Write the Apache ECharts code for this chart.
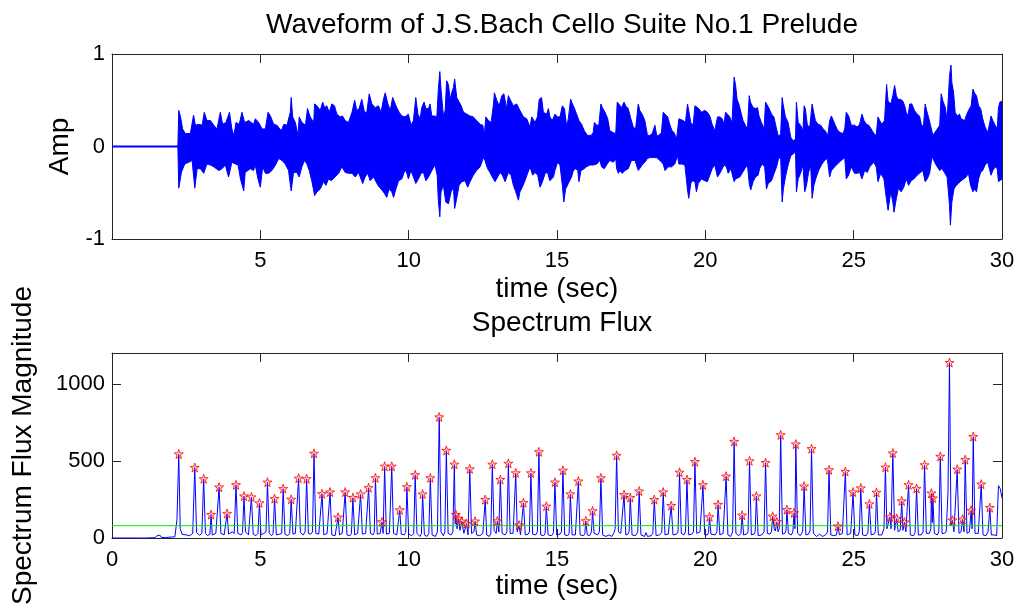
<!DOCTYPE html>
<html><head><meta charset="utf-8">
<script src="https://cdn.jsdelivr.net/npm/echarts@6/dist/echarts.min.js"></script>
<style>html,body{margin:0;padding:0;background:#fff}#c{width:1021px;height:610px}</style>
</head><body><div id="c"></div>
<script>
// ---- Data ----
const titleTop = 'Waveform of J.S.Bach Cello Suite No.1 Prelude';
const titleBottom = 'Spectrum Flux';
const xLabel = 'time (sec)';
const yLabelTop = 'Amp';
const yLabelBottom = 'Spectrum Flux Magnitude';
const timeRange = [0, 30];
const timeTickStep = 5;
const ampRange = [-1, 1];
const ampTickStep = 1;
const fluxRange = [0, 1200];
const fluxTickStep = 500;
const threshold = 80;

// Waveform upper envelope [time, amplitude]
const waveUpper = [[0,0],[2.22,0],[2.25,0.39],[2.31,0.32],[2.38,0.19],[2.47,0.14],[2.64,0.14],[2.75,0.34],[2.81,0.23],[2.92,0.24],[3.04,0.23],[3.11,0.37],[3.20,0.28],[3.32,0.28],[3.43,0.23],[3.54,0.19],[3.65,0.37],[3.73,0.24],[3.84,0.26],[3.96,0.37],[4.04,0.19],[4.11,0.12],[4.18,0.26],[4.29,0.24],[4.38,0.37],[4.47,0.26],[4.61,0.28],[4.77,0.24],
[4.83,0.30],[4.94,0.26],[5.06,0.19],[5.17,0.19],[5.26,0.37],[5.34,0.33],[5.45,0.24],[5.56,0.23],[5.71,0.17],[5.79,0.24],[5.90,0.23],[6.01,0.37],[6.04,0.53],[6.09,0.32],[6.18,0.26],[6.27,0.12],[6.31,0.32],[6.40,0.26],[6.52,0.23],[6.59,0.41],[6.68,0.32],[6.80,0.26],[6.83,0.46],[6.91,0.44],[7.02,0.39],[7.10,0.48],[7.17,0.42],[7.24,0.44],[7.32,0.37],[7.41,0.46],[7.50,0.44],[7.58,0.35],[7.69,0.32],[7.77,0.33],[7.86,0.28],[7.97,0.26],[8.09,0.37],[8.18,0.50],[8.25,0.39],[8.33,0.41],[8.42,0.51],[8.51,0.37],[8.59,0.37],[8.67,0.57],[8.76,0.46],[8.87,0.42],[8.98,0.44],[9.07,0.37],[9.15,0.51],[9.21,0.58],[9.30,0.46],[9.38,0.39],[9.46,0.53],[9.52,0.51],[9.60,0.42],[9.68,0.37],[9.77,0.33],
[9.88,0.32],[9.99,0.35],[10.08,0.23],[10.16,0.28],[10.24,0.53],[10.31,0.35],[10.39,0.30],[10.44,0.42],[10.52,0.48],[10.58,0.41],[10.67,0.41],[10.72,0.46],[10.78,0.33],[10.87,0.33],[10.95,0.32],[11.00,0.62],[11.05,0.81],[11.09,0.62],[11.17,0.33],[11.23,0.39],[11.28,0.71],[11.34,0.67],[11.40,0.51],[11.45,0.58],[11.51,0.64],[11.55,0.73],[11.62,0.53],[11.68,0.51],[11.77,0.44],[11.85,0.37],[11.96,0.35],[12.07,0.33],[12.18,0.32],[12.29,0.28],[12.41,0.24],[12.50,0.23],[12.55,0.12],[12.60,0.32],[12.69,0.28],[12.78,0.26],[12.86,0.46],[12.89,0.58],[12.97,0.50],[13.05,0.44],[13.14,0.55],[13.21,0.57],[13.30,0.41],[13.36,0.55],[13.45,0.49],[13.53,0.44],[13.64,0.46],[13.75,0.39],[13.87,0.32],[13.98,0.30],[14.09,0.21],[14.15,0.32],[14.26,0.26],[14.34,0.32],[14.40,0.51],[14.48,0.53],[14.54,0.37],[14.65,0.35],[14.71,0.41],[14.76,0.32],[14.84,0.28],
[14.93,0.35],[15.02,0.32],[15.10,0.32],[15.18,0.44],[15.25,0.41],[15.33,0.21],[15.38,0.30],[15.46,0.51],[15.52,0.46],[15.58,0.42],[15.66,0.35],[15.74,0.28],[15.83,0.24],[15.92,0.17],[16.03,0.12],[16.15,0.12],[16.22,0.15],[16.26,0.26],[16.34,0.23],[16.41,0.23],[16.48,0.46],[16.53,0.42],[16.62,0.37],[16.71,0.30],[16.78,0.17],[16.90,0.15],[16.98,0.14],[17.03,0.48],[17.09,0.46],[17.18,0.42],[17.26,0.48],[17.31,0.44],[17.40,0.41],[17.49,0.30],[17.57,0.21],[17.65,0.19],[17.74,0.46],[17.79,0.39],[17.87,0.35],[17.96,0.28],[18.05,0.12],[18.13,0.12],[18.21,0.14],[18.30,0.23],[18.36,0.12],[18.43,0.12],[18.52,0.15],[18.58,0.37],[18.64,0.35],[18.73,0.32],[18.80,0.24],[18.88,0.17],[18.95,0.15],[19.03,0.08],[19.11,0.30],[19.17,0.32],[19.25,0.28],[19.33,0.26],[19.40,0.46],[19.44,0.48],[19.51,0.26],[19.59,0.23],[19.65,0.44],[19.70,0.46],[19.78,0.41],[19.87,0.37],
[19.98,0.39],[20.07,0.37],[20.15,0.33],[20.23,0.24],[20.32,0.17],[20.41,0.32],[20.49,0.32],[20.57,0.30],[20.63,0.24],[20.68,0.37],[20.75,0.35],[20.82,0.32],[20.90,0.26],[20.97,0.75],[21.02,0.66],[21.07,0.51],[21.13,0.46],[21.20,0.37],[21.27,0.28],[21.35,0.23],[21.42,0.19],[21.48,0.55],[21.52,0.48],[21.61,0.42],[21.69,0.41],[21.76,0.42],[21.81,0.33],[21.89,0.26],[21.98,0.19],[22.03,0.48],[22.07,0.46],[22.15,0.41],[22.23,0.35],[22.31,0.32],[22.40,0.19],[22.47,0.10],[22.54,0.14],[22.59,0.53],[22.62,0.46],[22.70,0.32],[22.79,0.26],[22.88,0.10],[22.96,0.06],[23.04,0.08],[23.07,0.48],[23.13,0.26],[23.21,0.23],[23.29,0.17],[23.33,0.44],[23.37,0.41],[23.44,0.23],[23.52,0.21],[23.60,0.46],[23.64,0.39],[23.71,0.28],[23.80,0.24],[23.89,0.23],[23.97,0.19],[24.04,0.17],[24.13,0.12],[24.19,0.28],[24.25,0.33],[24.30,0.33],[24.38,0.23],[24.47,0.17],[24.56,0.15],[24.64,0.14],[24.70,0.19],[24.75,0.37],[24.83,0.33],[24.92,0.23],
[25.03,0.23],[25.12,0.21],[25.20,0.24],[25.28,0.35],[25.35,0.28],[25.43,0.24],[25.51,0.23],[25.59,0.19],[25.68,0.14],[25.76,0.12],[25.82,0.32],[25.88,0.28],[25.95,0.24],[26.04,0.28],[26.11,0.67],[26.16,0.49],[26.25,0.46],[26.32,0.55],[26.38,0.66],[26.44,0.55],[26.49,0.51],[26.58,0.51],[26.66,0.49],[26.72,0.44],[26.77,0.37],[26.83,0.33],[26.89,0.46],[26.96,0.46],[27.05,0.39],[27.14,0.35],[27.22,0.33],[27.28,0.24],[27.35,0.21],[27.41,0.46],[27.46,0.39],[27.52,0.32],[27.59,0.23],[27.67,0.12],[27.73,0.14],[27.82,0.19],[27.90,0.23],[27.95,0.57],[28.01,0.49],[28.09,0.42],[28.15,0.28],[28.23,0.76],[28.28,0.88],[28.31,0.69],[28.37,0.58],[28.42,0.37],[28.49,0.33],[28.57,0.35],[28.62,0.30],[28.68,0.32],[28.74,0.28],[28.79,0.33],[28.87,0.39],[28.96,0.44],[29.02,0.62],[29.07,0.58],[29.14,0.55],[29.21,0.44],[29.28,0.41],[29.35,0.30],[29.43,0.21],[29.52,0.15],[29.58,0.14],[29.63,0.33],[29.69,0.28],[29.77,0.23],[29.84,0.19],[29.88,0.42],[29.93,0.48],[30,0.49]];

// Waveform lower envelope [time, amplitude]
const waveLower = [[0,0],[2.22,0],[2.25,-0.45],[2.34,-0.28],[2.45,-0.19],[2.59,-0.17],[2.70,-0.15],[2.79,-0.45],[2.87,-0.24],[2.98,-0.24],[3.09,-0.29],[3.20,-0.19],[3.32,-0.20],[3.43,-0.22],[3.60,-0.26],[3.71,-0.24],[3.82,-0.20],[3.93,-0.33],[4.04,-0.17],[4.16,-0.19],[4.25,-0.20],[4.33,-0.35],[4.44,-0.48],[4.49,-0.28],[4.66,-0.24],[4.77,-0.26],
[4.83,-0.20],[4.92,-0.35],[5.00,-0.44],[5.08,-0.22],[5.17,-0.29],[5.28,-0.29],[5.39,-0.26],[5.51,-0.20],[5.62,-0.13],[5.73,-0.15],[5.84,-0.19],[5.95,-0.26],[6.04,-0.48],[6.12,-0.28],[6.23,-0.28],[6.31,-0.33],[6.40,-0.22],[6.49,-0.15],[6.57,-0.19],[6.65,-0.26],[6.74,-0.38],[6.83,-0.53],[6.91,-0.49],[7.02,-0.46],[7.13,-0.38],[7.21,-0.42],[7.30,-0.35],[7.39,-0.37],[7.52,-0.33],[7.64,-0.29],[7.75,-0.22],[7.86,-0.28],[7.97,-0.29],[8.09,-0.29],[8.20,-0.33],[8.31,-0.28],[8.45,-0.40],[8.53,-0.33],[8.62,-0.29],[8.70,-0.37],[8.82,-0.33],[8.93,-0.40],[9.01,-0.44],[9.10,-0.47],[9.19,-0.51],[9.26,-0.55],[9.34,-0.46],[9.43,-0.49],[9.49,-0.55],[9.57,-0.46],[9.66,-0.37],[9.77,-0.35],
[9.88,-0.25],[9.94,-0.29],[9.99,-0.35],[10.08,-0.26],[10.16,-0.33],[10.24,-0.40],[10.33,-0.35],[10.42,-0.29],[10.50,-0.28],[10.58,-0.37],[10.67,-0.33],[10.78,-0.26],[10.89,-0.20],[10.96,-0.31],[11.00,-0.58],[11.05,-0.76],[11.09,-0.49],[11.17,-0.42],[11.25,-0.60],[11.34,-0.62],[11.43,-0.49],[11.51,-0.44],[11.55,-0.67],[11.62,-0.56],[11.70,-0.42],[11.79,-0.38],[11.90,-0.37],[11.99,-0.44],[12.07,-0.38],[12.18,-0.31],[12.29,-0.26],[12.41,-0.22],[12.52,-0.12],[12.57,-0.15],[12.66,-0.24],[12.74,-0.28],[12.82,-0.33],[12.91,-0.38],[13.00,-0.33],[13.08,-0.28],[13.16,-0.31],[13.25,-0.38],[13.36,-0.28],[13.45,-0.31],[13.53,-0.42],[13.61,-0.49],[13.70,-0.58],[13.75,-0.49],[13.83,-0.44],[13.92,-0.37],[14.01,-0.29],[14.09,-0.22],[14.18,-0.31],[14.26,-0.28],[14.35,-0.31],[14.43,-0.44],[14.51,-0.38],[14.60,-0.29],[14.68,-0.28],[14.76,-0.37],[14.88,-0.33],
[14.93,-0.26],[15.02,-0.17],[15.10,-0.20],[15.18,-0.42],[15.23,-0.60],[15.29,-0.46],[15.38,-0.40],[15.44,-0.38],[15.49,-0.33],[15.55,-0.26],[15.63,-0.24],[15.70,-0.26],[15.74,-0.38],[15.81,-0.26],[15.92,-0.24],[15.99,-0.22],[16.11,-0.20],[16.22,-0.20],[16.28,-0.22],[16.34,-0.19],[16.45,-0.15],[16.50,-0.22],[16.59,-0.24],[16.67,-0.20],[16.78,-0.15],[16.90,-0.17],[16.98,-0.13],[17.01,-0.24],[17.07,-0.29],[17.12,-0.26],[17.20,-0.29],[17.29,-0.26],[17.40,-0.24],[17.51,-0.15],[17.63,-0.15],[17.74,-0.26],[17.79,-0.28],[17.87,-0.20],[17.96,-0.17],[18.05,-0.13],[18.13,-0.12],[18.24,-0.12],[18.36,-0.12],[18.47,-0.15],[18.58,-0.19],[18.64,-0.26],[18.75,-0.22],[18.86,-0.22],[18.97,-0.19],[19.06,-0.10],[19.11,-0.19],[19.20,-0.19],[19.31,-0.20],[19.40,-0.47],[19.44,-0.56],[19.51,-0.40],[19.56,-0.37],[19.65,-0.38],[19.70,-0.49],[19.76,-0.40],[19.87,-0.35],
[19.98,-0.37],[20.07,-0.38],[20.15,-0.31],[20.23,-0.24],[20.32,-0.20],[20.41,-0.33],[20.49,-0.29],[20.57,-0.24],[20.63,-0.20],[20.71,-0.22],[20.77,-0.29],[20.86,-0.24],[20.97,-0.38],[21.02,-0.35],[21.08,-0.37],[21.16,-0.33],[21.24,-0.29],[21.33,-0.24],[21.42,-0.20],[21.48,-0.40],[21.53,-0.47],[21.61,-0.38],[21.69,-0.33],[21.78,-0.31],[21.83,-0.24],[21.91,-0.19],[22.00,-0.22],[22.06,-0.46],[22.12,-0.40],[22.23,-0.37],[22.32,-0.29],[22.40,-0.22],[22.47,-0.13],[22.54,-0.12],[22.59,-0.60],[22.63,-0.46],[22.70,-0.33],[22.79,-0.20],[22.88,-0.10],[22.96,-0.08],[23.04,-0.06],[23.07,-0.49],[23.13,-0.35],[23.21,-0.29],[23.29,-0.20],[23.35,-0.49],[23.41,-0.42],[23.48,-0.28],[23.55,-0.20],[23.60,-0.56],[23.66,-0.42],[23.74,-0.33],[23.82,-0.26],[23.91,-0.20],[24.02,-0.15],[24.11,-0.13],[24.19,-0.33],[24.25,-0.26],[24.36,-0.22],[24.45,-0.19],[24.58,-0.15],[24.70,-0.12],[24.75,-0.35],[24.83,-0.31],[24.92,-0.22],
[25.03,-0.29],[25.12,-0.29],[25.20,-0.28],[25.28,-0.35],[25.37,-0.26],[25.46,-0.28],[25.54,-0.22],[25.59,-0.20],[25.68,-0.17],[25.76,-0.22],[25.82,-0.38],[25.91,-0.29],[26.02,-0.35],[26.10,-0.56],[26.16,-0.69],[26.25,-0.49],[26.32,-0.60],[26.36,-0.71],[26.44,-0.56],[26.51,-0.45],[26.60,-0.49],[26.69,-0.44],[26.77,-0.35],[26.85,-0.42],[26.94,-0.37],[27.03,-0.35],[27.14,-0.31],[27.22,-0.29],[27.33,-0.26],[27.41,-0.38],[27.48,-0.35],[27.56,-0.29],[27.64,-0.11],[27.70,-0.15],[27.78,-0.20],[27.90,-0.26],[27.97,-0.24],[28.06,-0.28],[28.15,-0.33],[28.23,-0.63],[28.26,-0.85],[28.31,-0.60],[28.38,-0.46],[28.46,-0.42],[28.53,-0.40],[28.62,-0.37],[28.71,-0.35],[28.79,-0.33],[28.87,-0.29],[28.94,-0.42],[29.02,-0.49],[29.07,-0.46],[29.14,-0.49],[29.21,-0.35],[29.28,-0.28],[29.35,-0.26],[29.43,-0.20],[29.52,-0.17],[29.58,-0.15],[29.63,-0.31],[29.69,-0.26],[29.77,-0.22],[29.84,-0.24],[29.88,-0.38],[29.93,-0.40],[30,-0.35]];

// Spectral flux curve [time, magnitude]
const fluxCurve = [[0,0],[1.0,0],[1.06,5],[1.1,0],[1.45,2],[1.52,15],[1.56,3],[1.62,18],[1.66,4],[1.8,3],[2.12,8],[2.19,120],[2.25,545],[2.3,60],[2.36,25],[2.5,20],[2.62,15],[2.72,30],[2.79,457],[2.85,35],[2.95,18],[3.03,30],[3.09,384],[3.15,30],[3.22,15],[3.3,25],[3.34,152],[3.38,20],[3.5,30],[3.56,40],[3.61,330],[3.67,30],[3.78,20],[3.84,25],[3.88,159],[3.93,25],[4.05,40],[4.12,30],[4.18,345],[4.24,30],[4.35,20],[4.4,35],[4.45,272],[4.5,40],[4.6,20],[4.65,30],[4.70,266],[4.76,25],[4.85,15],[4.92,30],[4.97,227],[5.02,20],[5.12,30],[5.19,40],[5.24,362],[5.3,30],[5.38,15],[5.43,30],[5.48,255],[5.54,20],[5.65,25],[5.72,30],[5.77,320],[5.83,25],[5.92,15],[5.99,30],[6.04,251],[6.1,25],[6.18,30],[6.24,40],[6.29,388],[6.35,35],[6.45,20],[6.51,40],[6.56,384],[6.62,30],[6.7,25],[6.76,40],[6.81,549],[6.87,30],[6.97,25],[7.03,30],[7.08,287],[7.14,20],[7.25,30],[7.3,35],[7.35,298],[7.41,20],[7.52,15],[7.58,20],[7.62,135],[7.67,20],[7.76,30],[7.81,35],[7.86,298],[7.92,20],[8.02,15],[8.07,30],[8.12,262],[8.18,20],[8.28,30],[8.33,25],[8.38,285],[8.44,25],[8.55,30],[8.6,35],[8.65,326],[8.71,30],[8.8,20],[8.84,35],[8.88,390],[8.94,25],[9.04,30],[9.1,105],[9.14,30],[9.19,465],[9.25,25],[9.35,30],[9.39,40],[9.43,465],[9.49,30],[9.6,20],[9.66,30],[9.70,182],[9.75,25],[9.85,20],[9.9,35],[9.94,332],[10.0,25],[10.1,15],[10.17,30],[10.22,410],[10.28,30],[10.38,10],[10.43,30],[10.47,285],[10.53,20],[10.62,10],[10.68,30],[10.73,390],[10.79,20],[10.9,10],[10.97,40],[11.03,785],[11.09,40],[11.17,15],[11.22,40],[11.27,568],[11.33,30],[11.43,20],[11.49,40],[11.54,478],[11.57,90],[11.59,152],[11.63,60],[11.68,127],[11.73,50],[11.79,109],[11.86,30],[11.95,94],[12.0,20],[12.06,448],[12.12,30],[12.2,40],[12.24,109],[12.29,20],[12.4,15],[12.5,30],[12.53,40],[12.58,249],[12.63,20],[12.72,10],[12.77,30],[12.82,478],[12.88,50],[12.95,30],[12.99,111],[13.04,40],[13.09,379],[13.15,30],[13.25,20],[13.31,40],[13.36,484],[13.42,30],[13.52,30],[13.57,40],[13.61,422],[13.66,40],[13.72,84],[13.77,20],[13.83,30],[13.87,229],[13.93,20],[14.03,25],[14.07,40],[14.12,422],[14.18,25],[14.28,20],[14.34,40],[14.39,559],[14.45,20],[14.55,15],[14.6,30],[14.64,206],[14.7,20],[14.82,15],[14.88,35],[14.93,362],[14.99,20],[15.1,25],[15.15,40],[15.20,439],[15.26,20],[15.36,15],[15.41,30],[15.45,285],[15.51,20],[15.62,20],[15.67,30],[15.72,369],[15.78,20],[15.9,15],[15.94,30],[15.97,111],[16.02,20],[16.1,15],[16.16,40],[16.20,176],[16.25,30],[16.37,20],[16.43,40],[16.48,390],[16.54,20],[16.65,10],[16.75,20],[16.85,10],[16.92,35],[16.96,60],[17.01,536],[17.07,40],[17.15,30],[17.21,40],[17.26,281],[17.32,20],[17.39,25],[17.43,40],[17.47,262],[17.53,20],[17.65,15],[17.72,40],[17.77,304],[17.83,20],[17.95,10],[18.0,35],[18.05,10],[18.18,15],[18.23,30],[18.28,249],[18.34,15],[18.45,20],[18.53,35],[18.58,298],[18.64,20],[18.75,25],[18.81,35],[18.85,210],[18.91,20],[19.03,25],[19.08,40],[19.13,426],[19.19,30],[19.28,20],[19.33,40],[19.38,379],[19.44,20],[19.55,25],[19.6,40],[19.65,495],[19.71,30],[19.82,40],[19.87,40],[19.92,345],[19.98,20],[20.07,20],[20.11,35],[20.14,137],[20.19,25],[20.33,20],[20.39,40],[20.43,217],[20.49,20],[20.6,30],[20.65,40],[20.70,401],[20.76,20],[20.85,10],[20.92,40],[20.97,626],[21.03,30],[21.13,15],[21.2,30],[21.24,148],[21.29,20],[21.39,25],[21.44,40],[21.49,500],[21.55,20],[21.64,25],[21.68,40],[21.72,272],[21.78,15],[21.9,20],[21.98,40],[22.03,489],[22.09,30],[22.18,25],[22.23,40],[22.27,141],[22.32,60],[22.36,45],[22.41,105],[22.45,40],[22.49,60],[22.54,669],[22.6,25],[22.68,30],[22.72,50],[22.75,184],[22.8,30],[22.9,20],[22.95,40],[22.99,163],[23.02,60],[23.05,609],[23.11,30],[23.2,15],[23.28,40],[23.33,336],[23.39,20],[23.48,25],[23.53,50],[23.58,579],[23.64,30],[23.75,10],[23.85,25],[23.95,10],[24.05,20],[24.12,40],[24.17,442],[24.23,20],[24.33,15],[24.42,20],[24.47,77],[24.52,20],[24.62,30],[24.67,40],[24.72,431],[24.78,20],[24.9,30],[24.93,40],[24.98,298],[25.04,20],[25.14,15],[25.19,40],[25.24,324],[25.3,20],[25.42,15],[25.48,35],[25.53,221],[25.59,20],[25.68,25],[25.73,40],[25.77,296],[25.83,20],[25.95,20],[26.02,60],[26.07,459],[26.12,60],[26.18,50],[26.22,137],[26.26,60],[26.32,551],[26.38,50],[26.42,60],[26.45,127],[26.5,40],[26.57,50],[26.62,240],[26.66,50],[26.71,103],[26.76,40],[26.81,40],[26.85,345],[26.91,20],[27.02,15],[27.07,35],[27.12,321],[27.18,20],[27.28,20],[27.34,40],[27.39,474],[27.45,30],[27.55,30],[27.6,60],[27.62,291],[27.65,100],[27.67,259],[27.72,30],[27.82,20],[27.87,40],[27.92,529],[27.98,30],[28.05,30],[28.12,40],[28.18,300],[28.23,1138],[28.28,80],[28.33,116],[28.38,40],[28.44,40],[28.49,446],[28.55,30],[28.62,40],[28.67,122],[28.72,40],[28.76,508],[28.82,30],[28.9,40],[28.96,180],[28.99,60],[29.03,658],[29.09,30],[29.2,30],[29.25,40],[29.30,349],[29.36,20],[29.46,15],[29.53,40],[29.59,197],[29.64,20],[29.74,20],[29.82,15],[29.88,340],[29.94,320],[30,260]];

// Detected peaks (red stars)
const peakTimes = [2.25,2.79,3.09,3.34,3.61,3.88,4.18,4.45,4.70,4.97,5.24,5.48,5.77,6.04,6.29,6.56,6.81,7.08,7.35,7.62,7.86,8.12,8.38,8.65,8.88,9.10,9.19,9.43,9.70,9.94,10.22,10.47,10.73,11.03,11.27,11.54,11.59,11.68,11.79,11.95,12.06,12.24,12.58,12.82,12.99,13.09,13.36,13.61,13.72,13.87,14.12,14.39,14.64,14.93,15.20,15.45,15.72,15.97,16.20,16.48,17.01,17.26,17.47,17.77,18.28,18.58,18.85,19.13,19.38,19.65,19.92,20.14,20.43,20.70,20.97,21.24,21.49,21.72,22.03,22.27,22.41,22.54,22.75,22.99,23.05,23.33,23.58,24.17,24.47,24.72,24.98,25.24,25.53,25.77,26.07,26.22,26.32,26.45,26.62,26.71,26.85,27.12,27.39,27.62,27.67,27.92,28.23,28.33,28.49,28.67,28.76,28.96,29.03,29.30,29.59];
const peakValues = [545,457,384,152,330,159,345,272,266,227,362,255,320,251,388,384,549,287,298,135,298,262,285,326,390,105,465,465,182,332,410,285,390,785,568,478,152,127,109,94,448,109,249,478,111,379,484,422,84,229,422,559,206,362,439,285,369,111,176,390,536,281,262,304,249,298,210,426,379,495,345,137,217,401,626,148,500,272,489,141,105,669,184,163,609,336,579,442,77,431,298,324,221,296,459,137,551,127,240,103,345,321,474,291,259,529,1138,116,446,122,508,180,658,349,197];

// ---- Chart ----
const FONT = '"Liberation Sans", Arial, Helvetica, sans-serif';
const AXIS_COLOR = '#262626';
const TICK_FS = 22, LABEL_FS = 28;
const chart = echarts.init(document.getElementById('c'), null, {renderer: 'canvas'});
const plainNum = v => String(v);

function mainX(grid, hideMin, gap) {
  return {
    type: 'value', gridIndex: grid, position: 'bottom', min: timeRange[0], max: timeRange[1], interval: timeTickStep,
    axisLine: {show: true, onZero: false, lineStyle: {color: AXIS_COLOR, width: 1}},
    axisTick: {show: true, inside: true, length: 9, lineStyle: {color: AXIS_COLOR}},
    axisLabel: {show: true, color: '#000', fontSize: TICK_FS, fontFamily: FONT, margin: 11, showMinLabel: !hideMin, formatter: plainNum},
    splitLine: {show: false},
    name: xLabel, nameLocation: 'middle', nameGap: gap,
    nameTextStyle: {color: '#000', fontSize: LABEL_FS, fontFamily: FONT}
  };
}
function mirrorX(grid) {
  return {
    type: 'value', gridIndex: grid, position: 'top', min: timeRange[0], max: timeRange[1], interval: timeTickStep,
    axisLine: {show: true, onZero: false, lineStyle: {color: AXIS_COLOR, width: 1}},
    axisTick: {show: true, inside: true, length: 9, lineStyle: {color: AXIS_COLOR}},
    axisLabel: {show: false}, splitLine: {show: false}
  };
}
function mainY(grid, range, step, name, gap) {
  return {
    type: 'value', gridIndex: grid, position: 'left', min: range[0], max: range[1], interval: step,
    axisLine: {show: true, onZero: false, lineStyle: {color: AXIS_COLOR, width: 1}},
    axisTick: {show: true, inside: true, length: 9, lineStyle: {color: AXIS_COLOR}},
    axisLabel: {show: true, color: '#000', fontSize: TICK_FS, fontFamily: FONT, margin: 7, showMaxLabel: range[1] % step === 0, formatter: plainNum},
    splitLine: {show: false},
    name: name, nameLocation: 'middle', nameGap: gap,
    nameTextStyle: {color: '#000', fontSize: LABEL_FS, fontFamily: FONT}
  };
}
function mirrorY(grid, range, step) {
  return {
    type: 'value', gridIndex: grid, position: 'right', min: range[0], max: range[1], interval: step,
    axisLine: {show: true, onZero: false, lineStyle: {color: AXIS_COLOR, width: 1}},
    axisTick: {show: true, inside: true, length: 9, lineStyle: {color: AXIS_COLOR}},
    axisLabel: {show: false}, splitLine: {show: false}
  };
}

const starPath = 'path://M50,2 L61,36 L97,36 L68,57 L79,92 L50,71 L21,92 L32,57 L3,36 L39,36 Z';

const option = {
  backgroundColor: '#ffffff',
  animation: false,
  title: [
    {text: titleTop, left: 557, top: 6, textAlign: 'center', textStyle: {color: '#000', fontSize: LABEL_FS, fontWeight: 'normal', fontFamily: FONT}},
    {text: titleBottom, left: 557, top: 304, textAlign: 'center', textStyle: {color: '#000', fontSize: LABEL_FS, fontWeight: 'normal', fontFamily: FONT}}
  ],
  grid: [
    {left: 112, right: 19, top: 54, height: 185, containLabel: false},
    {left: 112, right: 19, top: 353, height: 185, containLabel: false}
  ],
  xAxis: [mainX(0, true, 36), mirrorX(0), mainX(1, false, 27), mirrorX(1)],
  yAxis: [mainY(0, ampRange, ampTickStep, yLabelTop, 36), mirrorY(0, ampRange, ampTickStep),
          mainY(1, fluxRange, fluxTickStep, yLabelBottom, 75), mirrorY(1, fluxRange, fluxTickStep)],
  series: [
    {type: 'line', xAxisIndex: 0, yAxisIndex: 0, data: waveUpper, symbol: 'none',
     lineStyle: {color: '#0000ff', width: 1}, areaStyle: {color: '#0000ff', opacity: 1}, z: 2},
    {type: 'line', xAxisIndex: 0, yAxisIndex: 0, data: waveLower, symbol: 'none',
     lineStyle: {color: '#0000ff', width: 1}, areaStyle: {color: '#0000ff', opacity: 1}, z: 2},
    {type: 'line', xAxisIndex: 0, yAxisIndex: 0, data: [[timeRange[0], 0], [timeRange[1], 0]], symbol: 'none',
     lineStyle: {color: '#0000ff', width: 2}, z: 3},
    {type: 'line', xAxisIndex: 2, yAxisIndex: 2, data: fluxCurve, symbol: 'none',
     lineStyle: {color: '#0000ff', width: 1}, z: 2},
    {type: 'line', xAxisIndex: 2, yAxisIndex: 2, data: [[timeRange[0], threshold], [timeRange[1], threshold]], symbol: 'none',
     lineStyle: {color: '#00ee00', width: 1}, z: 3},
    {type: 'scatter', xAxisIndex: 2, yAxisIndex: 2, data: peakTimes.map((t, i) => [t, peakValues[i]]),
     symbol: starPath, symbolSize: 9,
     itemStyle: {color: 'rgba(255,140,140,0.35)', borderColor: '#ff0000', borderWidth: 1}, z: 4}
  ]
};
chart.setOption(option);
</script>
</body></html>
